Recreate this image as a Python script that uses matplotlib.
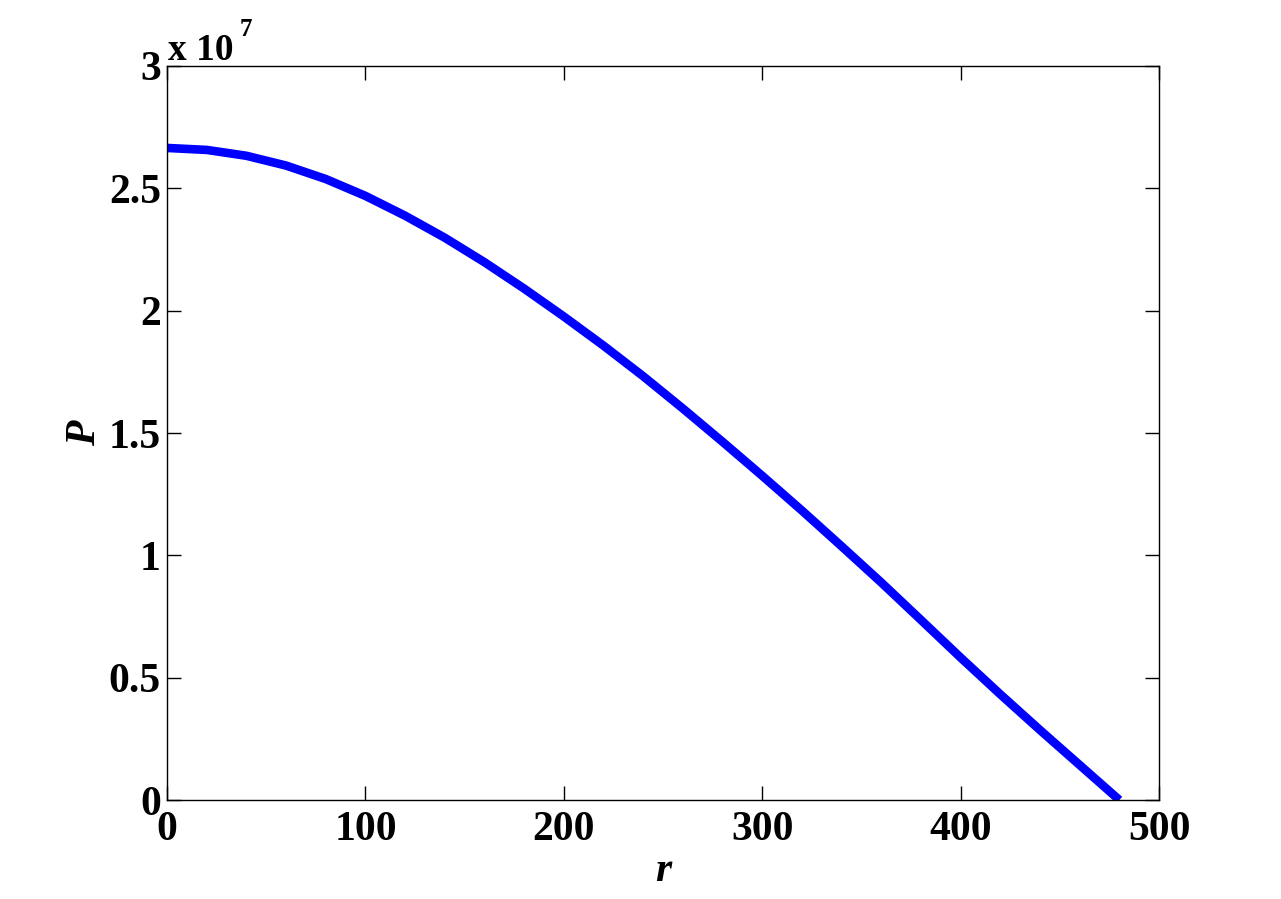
import matplotlib
matplotlib.use("Agg")
import matplotlib.pyplot as plt

r = [0, 20, 40, 60, 80, 100, 120, 140, 160, 180, 200, 220, 240, 260, 280,
     300, 320, 340, 360, 380, 400, 420, 440, 460, 480]
P = [2.665, 2.657, 2.633, 2.593, 2.538, 2.469, 2.388, 2.298, 2.198, 2.090,
     1.976, 1.857, 1.732, 1.600, 1.464, 1.325, 1.183, 1.037, 0.889, 0.736,
     0.582, 0.432, 0.286, 0.143, 0.0]
P = [p * 1e7 for p in P]
xticks = [0, 100, 200, 300, 400, 500]
yticks = [0, 0.5e7, 1e7, 1.5e7, 2e7, 2.5e7, 3e7]
ytick_labels = ["0", "0.5", "1", "1.5", "2", "2.5", "3"]

plt.rcParams['font.family'] = ['Liberation Serif', 'DejaVu Serif']
plt.rcParams['font.weight'] = 'bold'

fig = plt.figure(figsize=(12.81, 8.99), dpi=100)
ax = fig.add_axes([0.1304, 0.1101, 0.7744, 0.8165])
ax.plot(r, P, color='#0000ff', linewidth=6.2, solid_capstyle='butt',
        solid_joinstyle='round')
ax.set_xlim(0, 500)
ax.set_ylim(0, 3e7)
ax.set_xticks(xticks)
ax.set_xticklabels([str(v) for v in xticks])
ax.set_yticks(yticks)
ax.set_yticklabels(ytick_labels)
ax.tick_params(direction='in', length=10, width=1, top=True, right=True,
               labelsize=30)
ax.tick_params(axis='x', pad=8)
ax.tick_params(axis='y', pad=4.5)
for lab in ax.get_xticklabels() + ax.get_yticklabels():
    lab.set_fontweight('bold')
for s in ax.spines.values():
    s.set_linewidth(1)
ax.set_xlabel('r', fontsize=30, fontstyle='italic', fontweight='bold', labelpad=2)
ax.set_ylabel('P', fontsize=30, fontstyle='italic', fontweight='bold', labelpad=3)
fig.text(168 / 1281, 1 - 60 / 899, 'x 10', fontsize=27, fontweight='bold',
         ha='left', va='baseline')
fig.text(240 / 1281, 1 - 36 / 899, '7', fontsize=18, fontweight='bold',
         ha='left', va='baseline')
fig.savefig('out.png', dpi=100)
